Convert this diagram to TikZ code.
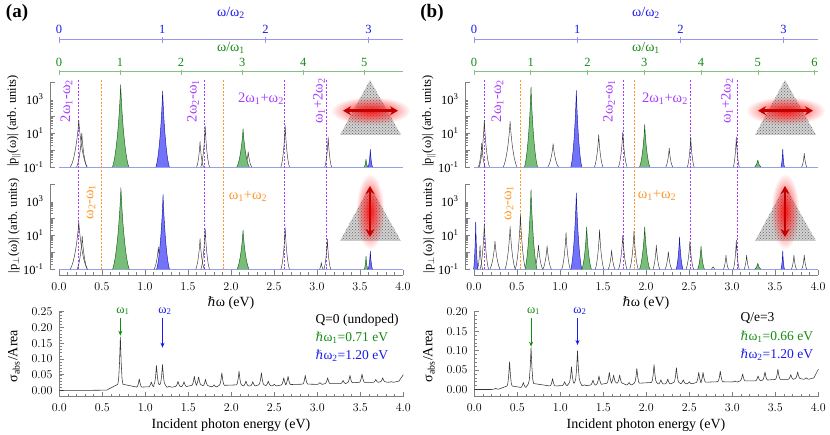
\documentclass[tikz,border=0pt]{standalone}
\usepackage{fontspec}
\setmainfont{Liberation Serif}
\newfontfamily\hfont[Scale=0.92]{DejaVu Serif}
\usetikzlibrary{arrows.meta,patterns,fadings}
\definecolor{wone}{RGB}{20,140,20}
\definecolor{wtwo}{RGB}{25,25,240}
\definecolor{mixv}{RGB}{165,60,255}
\definecolor{mixo}{RGB}{255,150,40}
\definecolor{gfill}{RGB}{120,190,120}
\definecolor{gline}{RGB}{20,90,20}
\definecolor{bfill}{RGB}{115,115,250}
\definecolor{bline}{RGB}{20,20,170}
\definecolor{zline}{RGB}{150,160,230}
\definecolor{onex}{RGB}{130,195,130}
\definecolor{twox}{RGB}{150,150,240}
\definecolor{glow}{RGB}{255,20,20}
\definecolor{darr}{RGB}{195,0,0}
\tikzfading[name=fuzzy, inner color=transparent!0, outer color=transparent!100]
\tikzset{
  ax/.style={draw=black!50, line width=0.5pt},
  woneax/.style={draw=onex, line width=0.6pt},
  wtwoax/.style={draw=twox, line width=0.6pt},
  zl/.style={draw=zline, line width=0.7pt},
  vd/.style={draw=mixv, line width=0.7pt, dash pattern=on 2pt off 1.6pt},
  od/.style={draw=mixo, line width=0.7pt, dash pattern=on 2pt off 1.6pt},
  kpk/.style={draw=black!80, line width=0.45pt},
  gpk/.style={fill=gfill, draw=gline, line width=0.45pt},
  bpk/.style={fill=bfill, draw=bline, line width=0.45pt},
  spec/.style={draw=black!80, line width=0.55pt},
  redarr/.style={draw=darr, line width=2.6pt, {Stealth[length=8pt,width=9pt]}-{Stealth[length=8pt,width=9pt]}},
  vtxt/.style={text=mixv, font=\fontsize{14.5}{14.5}\selectfont},
  otxt/.style={text=mixo, font=\fontsize{14.5}{14.5}\selectfont},
  title/.style={font=\fontsize{14}{14}\selectfont},
  info/.style={anchor=west, font=\fontsize{13.5}{14}\selectfont}
}
\newcommand\sub[1]{\textsubscript{#1}}
\newcommand\hb{{\hfont\itshape ℏ}}
% one peak on the log axes: [style]{centre}{decades}{half width}
\newcommand\pk[4][kpk]{\draw[#1] (#2-#4,0) .. controls (#2-0.55*#4,0.12*#3) and (#2-0.15*#4,0.6*#3) .. (#2,#3) .. controls (#2+0.15*#4,0.6*#3) and (#2+0.55*#4,0.12*#3) .. (#2+#4,0);}
\begin{document}
\begin{tikzpicture}[x=1pt, y=-1pt, font=\fontsize{12.5}{15}\selectfont, line join=round, >={Stealth[length=5pt,width=4pt]}]
\useasboundingbox (0,0) rectangle (830,435);
% frame of both panels
\foreach \dx/\wa/\nmax/\nt/\yk/\yz/\ta/\tb/\tag in {0/0.71/5/5/315/390.5/335.7/347.7/a, 415/0.66/6/4/389/389.5/346.7/345/b}{
\begin{scope}[xshift=\dx pt]
  \node[font=\bfseries\fontsize{19}{19}\selectfont] (tag\tag) at (17,13) {(\tag)};
  % top axes
  \draw[wtwoax] (59,39.3) -- (403,39.3);
  \foreach \k in {0,...,3}{
    \pgfmathsetmacro\xp{59+86*1.2*\k}
    \draw[wtwoax] (\xp,37.5) -- (\xp,43);
    \node[wtwo] (ta\tag\k) at (\xp,29) {\k};}
  \node[wtwo, title] (tta\tag) at (231,13) {ω/ω\sub{2}};
  \draw[woneax] (59,71.7) -- (403,71.7);
  \foreach \k in {0,...,\nmax}{
    \pgfmathsetmacro\xp{59+86*\wa*\k}
    \draw[woneax] (\xp,70) -- (\xp,75.5);
    \node[wone] (tb\tag\k) at (\xp,62) {\k};}
  \node[wone, title] (ttb\tag) at (231,48) {ω/ω\sub{1}};
  % log axes
  \foreach \yb/\pn in {167/par, 269.3/per}{
    \draw[ax] (50,\yb) -- (50,\yb-85);
    \foreach \d in {0,...,3}{
      \draw[ax] (50,\yb-17*\d) -- ++(5,0);
      \foreach \m in {2,...,9} \draw[ax] (50,{\yb-17*(\d+log10(\m))}) -- ++(3,0);}
    \draw[ax] (50,\yb-85) -- ++(5,0);
    \node[anchor=east] (ya\tag\pn) at (47,\yb) {10\textsuperscript{-1}};
    \node[anchor=east] (yb\tag\pn) at (47,\yb-34) {10\textsuperscript{1}};
    \node[anchor=east] (yc\tag\pn) at (47,\yb-68) {10\textsuperscript{3}};
    \draw[zl] (59,\yb) -- (403,\yb);}
  \node[rotate=90] (ylpar\tag) at (14,121) {|p\textsubscript{$\parallel$}(ω)| (arb. units)};
  \node[rotate=90] (ylper\tag) at (14,226) {|p\textsubscript{$\perp$}(ω)| (arb. units)};
  % mixing lines
  \foreach \e/\s in {2*\wa-1.2/vd, 2.4-\wa/vd, 2*\wa+1.2/vd, \wa+2.4/vd, 1.2-\wa/od, \wa+1.2/od}{
    \pgfmathsetmacro\xp{59+86*(\e)}
    \draw[\s] (\xp,80) -- (\xp,269.3);}
  % energy axis
  \draw[ax] (59,275) -- (403,275);
  \foreach \j in {1,...,39} \draw[ax] (59+8.6*\j,275) -- ++(0,-2.5);
  \foreach \j in {0,...,8}{
    \pgfmathsetmacro\v{0.5*\j}
    \draw[ax] (59+43*\j,275) -- ++(0,-5);
    \node (xe\tag\j) at (59+43*\j,287) {\pgfmathprintnumber[fixed,fixed zerofill,precision=1]{\v}};}
  \node[title] (xl\tag) at (231,303) {\hb ω (eV)};
  % flakes and field
  \foreach \ty in {80,186}
    \path[fill=gray!35, postaction={pattern=crosshatch dots, pattern color=black!60}] (370,\ty) -- (401,\ty+55) -- (340,\ty+55) -- cycle;
  \fill[glow, path fading=fuzzy] (370.5,110.7) ellipse (40pt and 14pt);
  \draw[redarr] (343,110.7) -- (398,110.7);
  \fill[glow, path fading=fuzzy] (370,211.5) ellipse (14pt and 38pt);
  \draw[redarr] (370,186) -- (370,237);
  % absorption axes
  \draw[ax] (59.3,311.7) -- (59.3,396.7) -- (403,396.7);
  \pgfmathtruncatemacro\nm{5*\nt}
  \foreach \j in {1,...,\nm} \draw[ax] (59.3,{\yz-\yk*0.01*\j}) -- ++(2.5,0);
  \foreach \j in {0,...,\nt}{
    \pgfmathsetmacro\v{0.05*\j}
    \draw[ax] (59.3,{\yz-\yk*\v}) -- ++(5,0);
    \node[anchor=east] (ys\tag\j) at (56,{\yz-\yk*\v}) {\pgfmathprintnumber[fixed,fixed zerofill,precision=2]{\v}};}
  \foreach \j in {1,...,39} \draw[ax] (59.3+8.6*\j,396.7) -- ++(0,-2.5);
  \foreach \j in {0,...,8}{
    \pgfmathsetmacro\v{0.5*\j}
    \draw[ax] (59.3+43*\j,396.7) -- ++(0,-5);
    \node (xs\tag\j) at (59.3+43*\j,408) {\pgfmathprintnumber[fixed,fixed zerofill,precision=1]{\v}};}
  \node[title] (xt\tag) at (231,425) {Incident photon energy (eV)};
  \node[rotate=90, title] (yt\tag) at (14,356) {σ\sub{abs}/Area};
  % pump markers
  \pgfmathsetmacro\xa{59.3+86*\wa}
  \coordinate (p1\tag) at (\xa,\ta);
  \coordinate (p2\tag) at (162.5,\tb);
  \node[wone] (w1\tag) at (\xa+2.5,311) {ω\sub{1}};
  \node[wtwo] (w2\tag) at (165,311) {ω\sub{2}};
  \draw[->, wone, line width=0.6pt] (\xa,318) -- (p1\tag);
  \draw[->, wtwo, line width=0.6pt] (162.5,318) -- (p2\tag);
\end{scope}}
% (a) parallel
\begin{scope}[shift={(59pt,-167pt)}, x=86pt, y=17pt]
  \foreach \pc/\ph/\pw/\ps in {0.23/2.75/0.097/kpk, 0.265/2.0/0.06/kpk, 1.64/1.5/0.04/kpk, 1.70/2.41/0.05/kpk, 2.20/0.9/0.04/kpk, 2.63/2.45/0.05/kpk, 3.13/1.76/0.04/kpk, 0.717/4.84/0.095/gpk, 1.205/4.47/0.078/bpk, 2.14/2.25/0.072/gpk, 3.57/0.45/0.02/gpk, 3.62/1.04/0.025/bpk}
    \pk[\ps]{\pc}{\ph}{\pw};
\end{scope}
% (a) perpendicular
\begin{scope}[shift={(59pt,-269.3pt)}, x=86pt, y=17pt]
  \foreach \pc/\ph/\pw/\ps in {0.23/2.78/0.1/kpk, 0.27/1.95/0.06/kpk, 1.155/1.3/0.05/kpk, 1.64/1.8/0.05/kpk, 1.70/2.4/0.05/kpk, 2.63/2.45/0.05/kpk, 3.05/0.4/0.02/kpk, 3.12/1.77/0.04/kpk, 0.72/4.8/0.097/gpk, 1.21/4.4/0.075/bpk, 2.14/2.3/0.07/gpk, 3.57/0.78/0.02/gpk, 3.62/1.07/0.025/bpk}
    \pk[\ps]{\pc}{\ph}{\pw};
\end{scope}
\node[vtxt, rotate=90] (ma1) at (66.5,101) {2ω\sub{1}-ω\sub{2}};
\node[vtxt, rotate=90] (ma2) at (193,101) {2ω\sub{2}-ω\sub{1}};
\node[vtxt] (ma3) at (261,99) {2ω\sub{1}+ω\sub{2}};
\node[vtxt, rotate=90] (ma4) at (319,101) {ω\sub{1}+2ω\sub{2}};
\node[otxt, rotate=90] (ma5) at (91,202) {ω\sub{2}-ω\sub{1}};
\node[otxt] (ma6) at (248,196) {ω\sub{1}+ω\sub{2}};
% (a) absorption
\begin{scope}[shift={(59.3pt,-390.5pt)}, x=86pt, y=315pt]
  \draw[spec] (0,0) -- (0.55,0.001) \foreach \pc/\ph/\pb in {0.71/0.170/0.003, 0.93/0.037/0.008, 1.07/0.027/0.010, 1.13/0.079/0.012, 1.20/0.082/0.012, 1.28/0.014/0.010, 1.38/0.029/0.011, 1.45/0.028/0.011, 1.57/0.045/0.013, 1.62/0.043/0.015, 1.70/0.035/0.013, 1.80/0.018/0.011, 1.89/0.056/0.012, 2.09/0.061/0.013, 2.17/0.030/0.013, 2.25/0.028/0.013, 2.35/0.056/0.014, 2.43/0.030/0.014, 2.50/0.020/0.014, 2.61/0.040/0.015, 2.66/0.045/0.016, 2.86/0.048/0.017, 3.03/0.025/0.019, 3.12/0.040/0.020, 3.30/0.032/0.021, 3.38/0.048/0.022, 3.52/0.052/0.023, 3.68/0.035/0.025, 3.76/0.040/0.026, 3.86/0.028/0.026}
  { -- (\pc-0.03,{\pb+(\ph-\pb)*0.1}) -- (\pc-0.02,{\pb+(\ph-\pb)*0.2}) -- (\pc-0.01,{\pb+(\ph-\pb)*0.5}) -- (\pc,\ph) -- (\pc+0.01,{\pb+(\ph-\pb)*0.5}) -- (\pc+0.02,{\pb+(\ph-\pb)*0.2}) -- (\pc+0.03,{\pb+(\ph-\pb)*0.1})} -- (3.95,0.03) -- (4,0.05);
\end{scope}
\node[info] (qa) at (312,320) {Q=0 (undoped)};
\node[info, wone] (ea) at (312,338) {\hb ω\sub{1}=0.71 eV};
\node[info, wtwo] (fa) at (312,356) {\hb ω\sub{2}=1.20 eV};
% (b) parallel
\begin{scope}[shift={(474pt,-167pt)}, x=86pt, y=17pt]
  \foreach \pc/\ph/\pw/\ps in {0.09/1.4/0.04/kpk, 0.12/2.75/0.06/kpk, 0.42/2.69/0.08/kpk, 0.92/1.37/0.062/kpk, 1.45/1.9/0.05/kpk, 1.73/2.06/0.05/kpk, 2.27/1.12/0.04/kpk, 2.52/1.76/0.04/kpk, 3.05/1.76/0.035/kpk, 3.84/0.8/0.03/kpk, 0.663/4.7/0.076/gpk, 1.19/4.5/0.064/bpk, 1.985/2.49/0.06/gpk, 3.30/0.4/0.035/gpk, 3.59/1.04/0.02/bpk}
    \pk[\ps]{\pc}{\ph}{\pw};
\end{scope}
% (b) perpendicular
\begin{scope}[shift={(474pt,-269.3pt)}, x=86pt, y=17pt]
  \foreach \pc/\ph/\pw/\ps in {0.07/1.4/0.03/kpk, 0.12/2.68/0.05/kpk, 0.244/1.65/0.06/kpk, 0.42/2.52/0.06/kpk, 0.54/3.2/0.06/kpk, 0.75/1.42/0.05/kpk, 0.85/1.38/0.05/kpk, 1.07/2.16/0.05/kpk, 1.46/2.33/0.05/kpk, 1.60/1.13/0.04/kpk, 1.73/2.0/0.05/kpk, 1.86/2.23/0.05/kpk, 2.12/1.42/0.04/kpk, 2.26/1.03/0.04/kpk, 2.51/1.65/0.045/kpk, 2.78/0.15/0.02/kpk, 2.93/0.83/0.03/kpk, 3.05/1.71/0.035/kpk, 3.17/0.83/0.03/kpk, 3.72/0.83/0.03/kpk, 3.84/0.83/0.03/kpk, 0.02/2.78/0.025/bpk, 0.663/4.68/0.07/gpk, 1.19/4.49/0.064/bpk, 1.31/2.49/0.055/gpk, 1.985/2.49/0.06/gpk, 2.39/1.9/0.04/bpk, 2.64/1.36/0.04/gpk, 3.30/0.35/0.035/gpk, 3.59/1.07/0.02/bpk}
    \pk[\ps]{\pc}{\ph}{\pw};
\end{scope}
\node[vtxt, rotate=90] (mb1) at (497.5,101) {2ω\sub{1}-ω\sub{2}};
\node[vtxt, rotate=90] (mb2) at (609,101) {2ω\sub{2}-ω\sub{1}};
\node[vtxt] (mb3) at (665,99) {2ω\sub{1}+ω\sub{2}};
\node[vtxt, rotate=90] (mb4) at (727,101) {ω\sub{1}+2ω\sub{2}};
\node[otxt, rotate=90] (mb5) at (509,203) {ω\sub{2}-ω\sub{1}};
\node[otxt] (mb6) at (657,195) {ω\sub{1}+ω\sub{2}};
% (b) absorption
\begin{scope}[shift={(474.3pt,-389.5pt)}, x=86pt, y=389pt]
  \draw[spec] (0,0) -- (0.2,0) \foreach \pc/\ph/\pb in {0.25/0.003/0.0005, 0.41/0.071/0.002, 0.57/0.018/0.004, 0.66/0.108/0.005, 0.91/0.028/0.007, 1.05/0.020/0.009, 1.13/0.058/0.011, 1.20/0.099/0.011, 1.28/0.012/0.010, 1.38/0.024/0.010, 1.45/0.035/0.011, 1.57/0.044/0.013, 1.62/0.037/0.015, 1.69/0.037/0.014, 1.80/0.018/0.011, 1.89/0.054/0.012, 2.09/0.064/0.013, 2.17/0.025/0.013, 2.25/0.027/0.013, 2.35/0.056/0.014, 2.43/0.025/0.014, 2.50/0.020/0.014, 2.61/0.044/0.015, 2.66/0.044/0.016, 2.86/0.047/0.017, 3.03/0.022/0.019, 3.12/0.040/0.020, 3.30/0.035/0.021, 3.38/0.045/0.022, 3.53/0.052/0.023, 3.68/0.038/0.025, 3.76/0.045/0.026, 3.86/0.030/0.026}
  { -- (\pc-0.03,{\pb+(\ph-\pb)*0.1}) -- (\pc-0.02,{\pb+(\ph-\pb)*0.2}) -- (\pc-0.01,{\pb+(\ph-\pb)*0.5}) -- (\pc,\ph) -- (\pc+0.01,{\pb+(\ph-\pb)*0.5}) -- (\pc+0.02,{\pb+(\ph-\pb)*0.2}) -- (\pc+0.03,{\pb+(\ph-\pb)*0.1})} -- (3.95,0.03) -- (4,0.052);
\end{scope}
\node[info] (qb) at (737,318) {Q/e=3};
\node[info, wone] (eb) at (737,337) {\hb ω\sub{1}=0.66 eV};
\node[info, wtwo] (fb) at (737,355) {\hb ω\sub{2}=1.20 eV};
\end{tikzpicture}
\end{document}
